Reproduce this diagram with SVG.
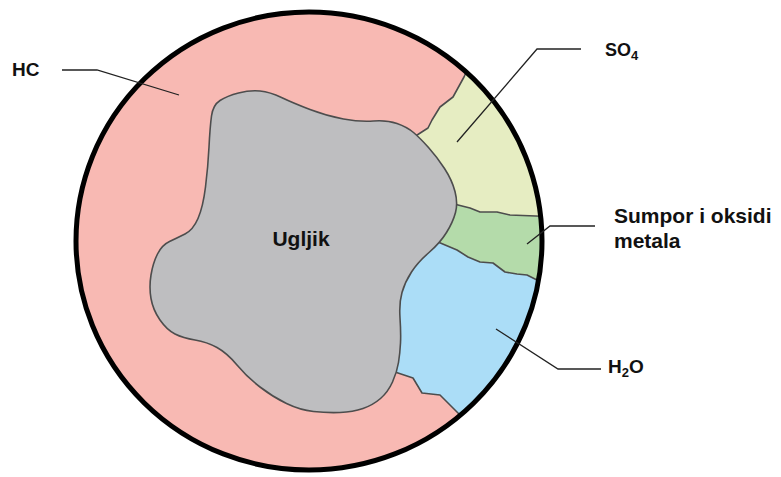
<svg xmlns="http://www.w3.org/2000/svg" width="781" height="477" viewBox="0 0 781 477">
  <style>
    .lbl { font-family: "Liberation Sans", Arial, sans-serif; font-weight: bold; fill: #111; }
    .edge { fill: none; stroke: #4d4d4d; stroke-width: 1.6; stroke-linejoin: round; }
    .leader { fill: none; stroke: #222; stroke-width: 1.3; }
  </style>
  <defs>
    <clipPath id="disc">
      <ellipse cx="309" cy="241" rx="233" ry="229"/>
    </clipPath>
  </defs>
  <rect width="781" height="477" fill="#ffffff"/>

  <!-- particle body: hydrocarbon layer -->
  <g id="hc">
    <ellipse cx="309" cy="241" rx="233" ry="229" fill="#F8B9B3"/>
  </g>

  <!-- outer sectors, clipped to the particle -->
  <g clip-path="url(#disc)">
    <g id="so4">
      <path d="M466,72 L464,77 L453,97 L440,107 L432,120 L428,128 L416,135 L458,205 L470,208 L480,212 L497,212 L510,215 L560,217 L560,40 Z" fill="#E6EDC2"/>
      <polyline class="edge" points="468,68 464,77 453,97 440,107 432,120 428,128 414,137"/>
    </g>
    <g id="sumpor">
      <path d="M456,204 L470,208 L480,212 L497,212 L510,215 L560,217 L560,284 L537,280 L527,275 L517,274 L505,272 L493,263 L480,262 L468,257 L457,250 L440,243 Z" fill="#B4DBAA"/>
      <polyline class="edge" points="454,204 470,208 480,212 497,212 510,215 560,217"/>
    </g>
    <g id="h2o">
      <path d="M440,243 L457,250 L468,257 L480,262 L493,263 L505,272 L517,274 L527,275 L537,280 L560,284 L560,440 L466,424 L460,415 L440,395 L422,393 L413,378 L397,373 L395,362 L397,342 L396,318 L397,300 L402,280 L414,260 L430,248 Z" fill="#ABDDF7"/>
      <polyline class="edge" points="438,242 457,250 468,257 480,262 493,263 505,272 517,274 527,275 537,280 560,287"/>
      <polyline class="edge" points="395,372 413,378 422,393 440,395 460,415 470,428"/>
    </g>
  </g>

  <!-- carbon core -->
  <g id="ugljik">
    <path d="M211.5,116 Q213,105 220,100.5 Q227,96 238.5,93 Q250,90 260,91 Q270,92 281.5,97.5 Q293,103 310,109.5 Q327,116 343.5,119 Q360,122 373.5,121 Q387,120 397,123.5 Q407,127 413.5,132.5 Q420,138 428.5,147.5 Q437,157 444.5,168.5 Q452,180 455,191.5 Q458,203 455.5,212.5 Q453,222 446.5,232.5 Q440,243 429,252.5 Q418,262 411.5,272 Q405,282 402,292.5 Q399,303 400,318 Q401,333 400.5,343 Q400,353 398.5,362.5 Q397,372 392.5,382 Q388,392 380.5,398.5 Q373,405 363,408.5 Q353,412 340,412.5 Q327,413 313.5,411.5 Q300,410 286.5,403.5 Q273,397 260,387 Q247,377 237,365 Q227,353 217,347.5 Q207,342 195,340 Q183,338 175,334 Q167,330 160,320 Q153,310 151,298.5 Q149,287 151,275 Q153,263 157.5,254 Q162,245 169.5,241.5 Q177,238 185,234 Q193,230 198,218.5 Q203,207 205.5,187 Q208,167 209,147 Q210,127 211.5,116 Z" fill="#BEBEC0" stroke="#4d4d4d" stroke-width="1.6"/>
    <text class="lbl" x="301" y="246" font-size="21" text-anchor="middle">Ugljik</text>
  </g>

  <!-- particle outline -->
  <ellipse cx="309" cy="241" rx="233" ry="229" fill="none" stroke="#000" stroke-width="5"/>

  <!-- leader lines -->
  <g id="connectors">
    <polyline class="leader" points="62,70 97,70 179,95"/>
    <polyline class="leader" points="457,142 537,49 581,49"/>
    <polyline class="leader" points="527,244 550,226 595,226"/>
    <polyline class="leader" points="496,329 558,369 601,369"/>
  </g>

  <!-- labels -->
  <g id="label-hc">
    <text class="lbl" x="12" y="76" font-size="19">HC</text>
  </g>
  <g id="label-so4">
    <text class="lbl" x="605" y="56" font-size="18">SO<tspan font-size="13" dy="4">4</tspan></text>
  </g>
  <g id="label-sumpor">
    <text class="lbl" x="614" y="223" font-size="21">Sumpor i oksidi</text>
    <text class="lbl" x="614" y="248" font-size="21">metala</text>
  </g>
  <g id="label-h2o">
    <text class="lbl" x="608" y="373" font-size="19">H<tspan font-size="13" dy="4">2</tspan><tspan dy="-4">O</tspan></text>
  </g>
</svg>
